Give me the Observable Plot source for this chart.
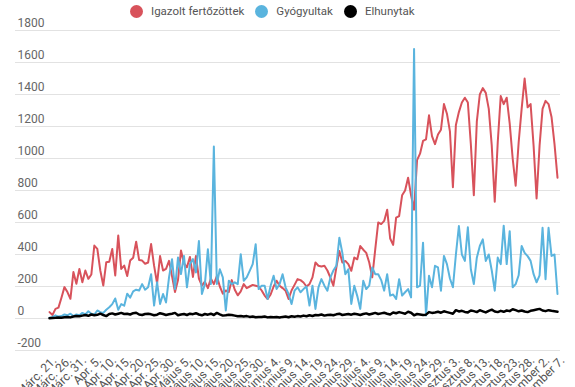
<!DOCTYPE html>
<html>
<head>
<meta charset="utf-8">
<script src="https://cdn.jsdelivr.net/npm/d3@7"></script>
<script src="https://cdn.jsdelivr.net/npm/@observablehq/plot@0.6"></script>
<style>
  body { margin: 0; background: #fff; font-family: Roboto, "Noto Sans", sans-serif; }
  #wrap { position: relative; width: 575px; height: 387px; overflow: hidden; }
  #legend { position: absolute; left: 130px; top: 4px; display: flex; align-items: center; font-size: 11.5px; color: #555; z-index: 2; }
  #legend .item { display: flex; align-items: center; margin-right: 11px; }
  #legend .dot { width: 13px; height: 13px; border-radius: 50%; margin-right: 8px; }
</style>
</head>
<body>
<div id="wrap">
  <div id="legend"></div>
  <div id="chart"></div>
</div>
<script>
// Series names and colours
const seriesNames = ["Igazolt fertőzöttek", "Gyógyultak", "Elhunytak"];
const seriesColors = ["#d8525b", "#5ab4de", "#000000"];

// First day of the data (one value per day)
const startDay = "2020-03-21";

// Igazolt fertőzöttek (daily)
const confirmed = [
  40, 22, 60, 68, 130, 196, 165, 123, 290, 217,
  310, 227, 300, 248, 275, 456, 435, 300, 206, 352,
  355, 435, 269, 519, 310, 331, 265, 362, 380, 480,
  365, 362, 342, 350, 465, 330, 220, 390, 300, 310,
  360, 265, 165, 240, 425, 345, 320, 385, 260, 390,
  250, 205, 230, 190, 250, 215, 265, 200, 155, 175,
  165, 240, 180, 145, 170, 215, 190, 200, 210, 205,
  200, 175, 143, 122, 150, 200, 236, 205, 190, 174,
  122, 175, 210, 246, 240, 225, 200, 215, 257, 350,
  330, 325, 330, 300, 255, 205, 319, 422, 350, 360,
  340, 298, 381, 370, 453, 430, 410, 350, 257, 430,
  600, 590, 610, 680, 500, 460, 630, 640, 770, 800,
  880, 770, 680, 990, 1030, 1110, 1120, 1270, 1140, 1090,
  1150, 1180, 1340, 1280, 1170, 820, 1210, 1290, 1350, 1380,
  1350, 1090, 770, 1230, 1400, 1440, 1410, 1310, 1080, 730,
  1100, 1390, 1340, 1380, 1220, 1000, 830, 1100, 1310, 1500,
  1320, 1340, 1080, 750, 1080, 1310, 1360, 1340, 1260, 1090,
  880
];

// Gyógyultak (daily)
const recovered = [
  5, 10, 20, 12, 15, 25, 20, 30, 15, 25,
  20, 35, 25, 45, 30, 25, 50, 40, 35, 55,
  70, 90, 125, 55, 90, 80, 155, 130, 170, 180,
  175, 215, 180, 195, 277, 81, 226, 91, 153, 100,
  257, 371, 185, 381, 278, 391, 195, 340, 371, 288,
  484, 153, 215, 433, 215, 1075, 215, 308, 257, 50,
  236, 215, 226, 215, 402, 236, 257, 298, 340, 464,
  184, 205, 205, 122, 205, 267, 184, 215, 277, 195,
  153, 91, 174, 195, 164, 184, 200, 81, 205, 60,
  195, 246, 205, 174, 257, 300, 330, 505, 410, 277,
  308, 91, 205, 140, 60, 236, 184, 205, 319, 277,
  277, 240, 174, 277, 143, 150, 122, 246, 143, 164,
  184, 132, 1685, 195, 205, 474, 19, 267, 195, 329,
  320, 174, 391, 340, 250, 195, 400, 578, 400, 360,
  570, 308, 215, 380, 453, 495, 360, 400, 300, 174,
  381, 340, 580, 340, 546, 195, 215, 270, 453, 410,
  390, 360, 277, 226, 270, 567, 246, 567, 391, 400,
  153
];

// Elhunytak (daily)
const deaths = [
  2, 3, 4, 6, 5, 8, 10, 7, 12, 15,
  14, 18, 22, 17, 25, 20, 23, 30, 22, 15,
  28, 32, 25, 30, 35, 28, 30, 25, 33, 36,
  25, 22, 28, 30, 26, 20, 24, 33, 28, 22,
  26, 30, 35, 20, 25, 28, 22, 30, 27, 33,
  25, 20, 28, 24, 30, 22, 35, 26, 18, 20,
  24, 22, 18, 14, 16, 12, 15, 10, 12, 8,
  10, 9, 12, 7, 10, 8, 9, 6, 10, 12,
  8, 14, 11, 15, 13, 18, 14, 20, 16, 22,
  20, 25, 18, 22, 24, 20, 26, 30, 22, 25,
  28, 24, 30, 26, 22, 28, 32, 25, 30, 35,
  28, 32, 36, 30, 25, 38, 33, 40, 35, 30,
  42, 36, 20, 28, 25, 22, 24, 40, 35, 38,
  42, 36, 45, 40, 35, 30, 52, 44, 48, 41,
  38, 50, 46, 40, 52, 45, 38, 48, 55, 44,
  40, 48, 42, 50, 46, 58, 52, 45, 50, 44,
  40, 48, 52, 56, 60, 50, 46, 52, 48, 45,
  42
];

// X tick labels (every 5th day)
const tickLabels = [
  "Márc. 21.", "Márc. 26.", "Márc. 31.", "Apr. 5.", "Apr. 10.", "Apr. 15.", "Apr. 20.",
  "Apr. 25.", "Apr. 30.", "Május 5.", "Május 10.", "Május 15.", "Május 20.", "Május 25.",
  "Május 30.", "Június 4.", "Június 9.", "Június 14.", "Június 19.", "Június 24.",
  "Június 29.", "Július 4.", "Július 9.", "Július 14.", "Július 19.", "Július 24.",
  "Július 29.", "Augusztus 3.", "Augusztus 8.", "Augusztus 13.", "Augusztus 18.",
  "Augusztus 23.", "Augusztus 28.", "Szeptember 2.", "Szeptember 7."
];
const tickStep = 5;

// Y ticks
const yTicks = [-200, 0, 200, 400, 600, 800, 1000, 1200, 1400, 1600, 1800];

// ---- build ----
const start = new Date(startDay + "T00:00:00Z");
const dayOf = i => d3.utcDay.offset(start, i);
const seriesValues = [confirmed, recovered, deaths];
const rows = [];
seriesValues.forEach((vals, s) => {
  vals.forEach((v, i) => rows.push({date: dayOf(i), value: v, series: seriesNames[s]}));
});
const tickDates = tickLabels.map((_, i) => dayOf(i * tickStep));
const labelMap = new Map(tickDates.map((d, i) => [+d, tickLabels[i]]));

// legend
const legend = document.getElementById("legend");
seriesNames.forEach((n, i) => {
  const it = document.createElement("div");
  it.className = "item";
  const dot = document.createElement("span");
  dot.className = "dot";
  dot.style.background = seriesColors[i];
  const tx = document.createElement("span");
  tx.textContent = n;
  it.appendChild(dot); it.appendChild(tx);
  legend.appendChild(it);
});

const chart = Plot.plot({
  width: 575,
  height: 387,
  marginTop: 30,
  marginBottom: 37,
  marginLeft: 15,
  marginRight: 15,
  style: {fontFamily: "Roboto, 'Noto Sans', sans-serif", fontSize: "12px", color: "#555", background: "#fff", overflow: "visible"},
  x: {type: "utc", domain: [dayOf(0), dayOf(confirmed.length - 1)], insetLeft: 34, insetRight: 3},
  y: {domain: [-200, 1800]},
  color: {domain: seriesNames, range: seriesColors},
  marks: [
    Plot.ruleY(yTicks, {stroke: "#e2e2e2", strokeWidth: 1}),
    Plot.axisY({ticks: yTicks, tickFormat: d => String(d), tickSize: 0, tickPadding: 0, textAnchor: "start", dx: 2, dy: -7, fill: "#666", label: null}),
    Plot.axisX({ticks: tickDates, tickFormat: d => labelMap.get(+d), tickSize: 0, tickPadding: 8, tickRotate: -45, dx: 5, fill: "#555", label: null}),
    Plot.line(rows.filter(r => r.series === seriesNames[0]), {x: "date", y: "value", stroke: seriesColors[0], strokeWidth: 2}),
    Plot.line(rows.filter(r => r.series === seriesNames[1]), {x: "date", y: "value", stroke: seriesColors[1], strokeWidth: 2}),
    Plot.line(rows.filter(r => r.series === seriesNames[2]), {x: "date", y: "value", stroke: seriesColors[2], strokeWidth: 2.5})
  ]
});
document.getElementById("chart").appendChild(chart);
</script>
</body>
</html>
